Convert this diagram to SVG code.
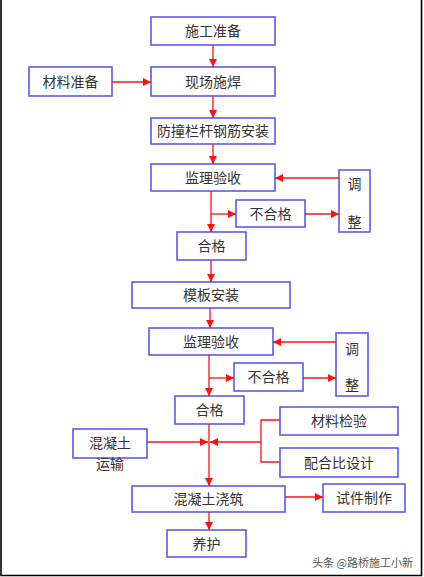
<svg xmlns="http://www.w3.org/2000/svg" width="424" height="577" viewBox="0 0 424 577">
<style>
.box{fill:#ffffff;stroke:#5a5aec;stroke-width:1.6}
.t{font-family:"Noto Sans CJK SC","Noto Sans",sans-serif;font-size:14px;fill:#333333;text-anchor:middle}
.c{fill:none;stroke:#ff1010;stroke-width:1.3}
.wm{font-family:"Noto Sans CJK SC","Noto Sans",sans-serif;font-size:11px;fill:#555555;text-anchor:end}
</style>
<defs>
<marker id="ah" viewBox="0 0 8 8" refX="8" refY="4" markerWidth="8" markerHeight="8" markerUnits="userSpaceOnUse" orient="auto">
<path d="M0,0 L8,4 L0,8 Z" fill="#ff1010"/>
</marker>
</defs>
<rect width="424" height="577" fill="#ffffff"/>
<path d="M1,0 V575.5 H421.5 V0" fill="none" stroke="#000000" stroke-width="1.6"/>

<g id="n1"><rect class="box" x="151" y="17" width="124" height="28"/><text class="t" x="213" y="36">施工准备</text></g>
<g id="n2"><rect class="box" x="151" y="67" width="124" height="29"/><text class="t" x="213" y="86.5">现场施焊</text></g>
<g id="n3"><rect class="box" x="29" y="67" width="83" height="29"/><text class="t" x="70.5" y="86.5">材料准备</text></g>
<g id="n4"><rect class="box" x="151" y="118" width="124" height="26"/><text class="t" x="213" y="136">防撞栏杆钢筋安装</text></g>
<g id="n5"><rect class="box" x="151" y="164" width="124" height="27"/><text class="t" x="213" y="182.5">监理验收</text></g>
<g id="n6"><rect class="box" x="339" y="170" width="31" height="62"/><text class="t" x="354.5" y="189">调</text><text class="t" x="354.5" y="227">整</text></g>
<g id="n7"><rect class="box" x="236" y="200" width="69" height="27"/><text class="t" x="270.5" y="218.5">不合格</text></g>
<g id="n8"><rect class="box" x="177" y="232" width="69" height="28"/><text class="t" x="211.5" y="251">合格</text></g>
<g id="n9"><rect class="box" x="132" y="282" width="158" height="26"/><text class="t" x="211" y="300">模板安装</text></g>
<g id="n10"><rect class="box" x="149" y="328" width="124" height="27"/><text class="t" x="211" y="346.5">监理验收</text></g>
<g id="n11"><rect class="box" x="336" y="333" width="32" height="63"/><text class="t" x="352" y="354">调</text><text class="t" x="352" y="390">整</text></g>
<g id="n12"><rect class="box" x="234" y="363" width="69" height="28"/><text class="t" x="268.5" y="382">不合格</text></g>
<g id="n13"><rect class="box" x="175" y="396" width="69" height="28"/><text class="t" x="209.5" y="415">合格</text></g>
<g id="n14"><rect class="box" x="280" y="407" width="118" height="28"/><text class="t" x="339" y="426">材料检验</text></g>
<g id="n15"><rect class="box" x="280" y="448" width="118" height="29"/><text class="t" x="339" y="467.5">配合比设计</text></g>
<g id="n16"><rect class="box" x="73" y="429" width="74" height="29"/><text class="t" x="110" y="448">混凝土</text><text class="t" x="110" y="469">运输</text></g>
<g id="n17"><rect class="box" x="132" y="486" width="153" height="26"/><text class="t" x="208.5" y="504">混凝土浇筑</text></g>
<g id="n18"><rect class="box" x="323" y="484" width="82" height="28"/><text class="t" x="364" y="503">试件制作</text></g>
<g id="n19"><rect class="box" x="167" y="530" width="79" height="27"/><text class="t" x="206.5" y="548.5">养护</text></g>

<g id="connectors">
<path class="c" d="M213,45 V67" marker-end="url(#ah)"/>
<path class="c" d="M112,82 H151" marker-end="url(#ah)"/>
<path class="c" d="M213,96 V118" marker-end="url(#ah)"/>
<path class="c" d="M213,144 V164" marker-end="url(#ah)"/>
<path class="c" d="M339,178 H275" marker-end="url(#ah)"/>
<path class="c" d="M211,191 V232" marker-end="url(#ah)"/>
<path class="c" d="M211,214 H236" marker-end="url(#ah)"/>
<path class="c" d="M305,214 H339" marker-end="url(#ah)"/>
<path class="c" d="M211,260 V282" marker-end="url(#ah)"/>
<path class="c" d="M210,308 V328" marker-end="url(#ah)"/>
<path class="c" d="M336,342 H273" marker-end="url(#ah)"/>
<path class="c" d="M209,355 V396" marker-end="url(#ah)"/>
<path class="c" d="M209,378 H234" marker-end="url(#ah)"/>
<path class="c" d="M303,378 H336" marker-end="url(#ah)"/>
<path class="c" d="M209,424 V486" marker-end="url(#ah)"/>
<path class="c" d="M147,442 H208" marker-end="url(#ah)"/>
<path class="c" d="M280,420 H261 V462 H280"/>
<path class="c" d="M261,442 H210" marker-end="url(#ah)"/>
<path class="c" d="M285,497 H323" marker-end="url(#ah)"/>
<path class="c" d="M209,512 V530" marker-end="url(#ah)"/>
</g>
<text class="wm" x="413" y="567">头条 @路桥施工小新</text>
</svg>
